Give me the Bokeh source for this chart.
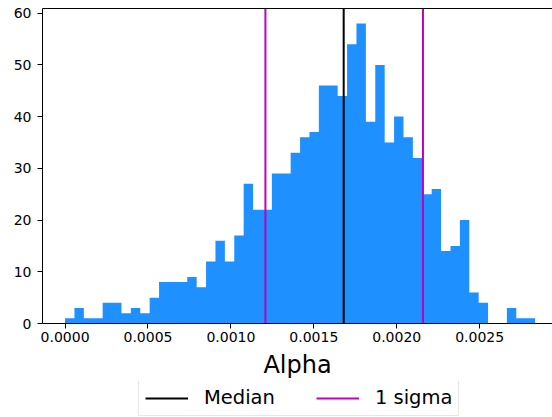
import numpy as np
from bokeh.plotting import figure
from bokeh.layouts import column
from bokeh.models import (Range1d, FixedTicker, PrintfTickFormatter, Legend,
                          LegendItem, LinearAxis)
from bokeh.embed import file_html
from bokeh.resources import INLINE

# Histogram of the posterior samples for alpha (50 equal bins)
bin_lo = 0.0
bin_hi = 0.002834
counts = [1, 3, 1, 1, 4, 4, 2, 3, 2, 5,
          8, 8, 8, 9, 7, 12, 16, 12, 17, 27,
          22, 22, 29, 29, 33, 36, 37, 46, 46, 44,
          54, 58, 39, 50, 35, 40, 36, 32, 25, 26,
          14, 15, 20, 6, 4, 0, 0, 3, 1, 1]
median = 0.001680
sigma_bounds = [0.001208, 0.002158]
x_ticks = [0.0, 0.0005, 0.001, 0.0015, 0.002, 0.0025]
y_ticks = [0, 10, 20, 30, 40, 50, 60]

edges = np.linspace(bin_lo, bin_hi, len(counts) + 1)
y_top = max(counts) * 1.05

FONT = "DejaVu Sans"
BLUE = "#1E90FF"
MAGENTA = "#BF00BF"

p = figure(width=552, height=381, output_backend="svg", toolbar_location=None,
           x_range=Range1d(-0.000136, 0.002939), y_range=Range1d(0, y_top),
           min_border_left=42, min_border_right=0, min_border_top=8,
           min_border_bottom=58)
p.outline_line_color = None
p.grid.visible = False
p.background_fill_color = "white"
p.border_fill_color = "white"

# bars as one stepped area so neighbouring bins join without seams
p.varea_step(x=edges, y1=np.zeros(len(edges)), y2=counts + [counts[-1]],
             step_mode="after", fill_color=BLUE)

p.segment(x0=[median], y0=[0], x1=[median], y1=[y_top],
          line_color="black", line_width=2)
p.segment(x0=sigma_bounds, y0=[0, 0], x1=sigma_bounds, y1=[y_top, y_top],
          line_color=MAGENTA, line_width=2)

for ax in (p.xaxis[0], p.yaxis[0]):
    ax.axis_line_color = "black"
    ax.major_tick_line_color = "black"
    ax.major_tick_out = 5
    ax.major_tick_in = 0
    ax.minor_tick_line_color = None
    ax.major_label_text_font = FONT
    ax.major_label_text_font_size = "14px"
    ax.major_label_text_color = "black"

p.xaxis.ticker = FixedTicker(ticks=x_ticks)
p.xaxis.formatter = PrintfTickFormatter(format="%.4f")
p.xaxis.major_label_standoff = 3
p.xaxis.axis_label = "Alpha"
p.xaxis.axis_label_text_font = FONT
p.xaxis.axis_label_text_font_size = "24px"
p.xaxis.axis_label_text_font_style = "normal"
p.xaxis.axis_label_text_color = "black"
p.xaxis.axis_label_standoff = 6

p.yaxis.ticker = FixedTicker(ticks=y_ticks)
p.yaxis.major_label_standoff = 6

# top spine
top = LinearAxis(ticker=FixedTicker(ticks=[]), major_tick_out=0,
                 major_label_standoff=0, axis_line_color="black")
p.add_layout(top, "above")

# legend strip under the axis label; its sample lines sit outside the view
leg_fig = figure(width=552, height=36, output_backend="svg", toolbar_location=None,
                 x_range=Range1d(0, 1), y_range=Range1d(0, 1),
                 x_axis_type=None, y_axis_type=None,
                 min_border=0, min_border_left=0, min_border_right=0,
                 min_border_top=0, min_border_bottom=0)
leg_fig.outline_line_color = None
leg_fig.grid.visible = False
leg_med = leg_fig.segment(x0=[5], y0=[5], x1=[6], y1=[5], line_color="black", line_width=2)
leg_sig = leg_fig.segment(x0=[5], y0=[5], x1=[6], y1=[5], line_color=MAGENTA, line_width=2)

legend = Legend(items=[LegendItem(label="Median", renderers=[leg_med]),
                       LegendItem(label="1 sigma", renderers=[leg_sig])],
                orientation="horizontal", location=(96, 1),
                label_text_font=FONT, label_text_font_size="19.5px",
                label_text_color="black",
                glyph_width=43, glyph_height=20, label_height=20,
                label_standoff=16, spacing=41, padding=6, margin=0,
                border_line_color="#d0d0d0", border_line_width=1,
                background_fill_alpha=1.0)
leg_fig.add_layout(legend, "center")

layout = column(p, leg_fig, spacing=0)
open("out.html", "w").write(file_html(layout, INLINE))
